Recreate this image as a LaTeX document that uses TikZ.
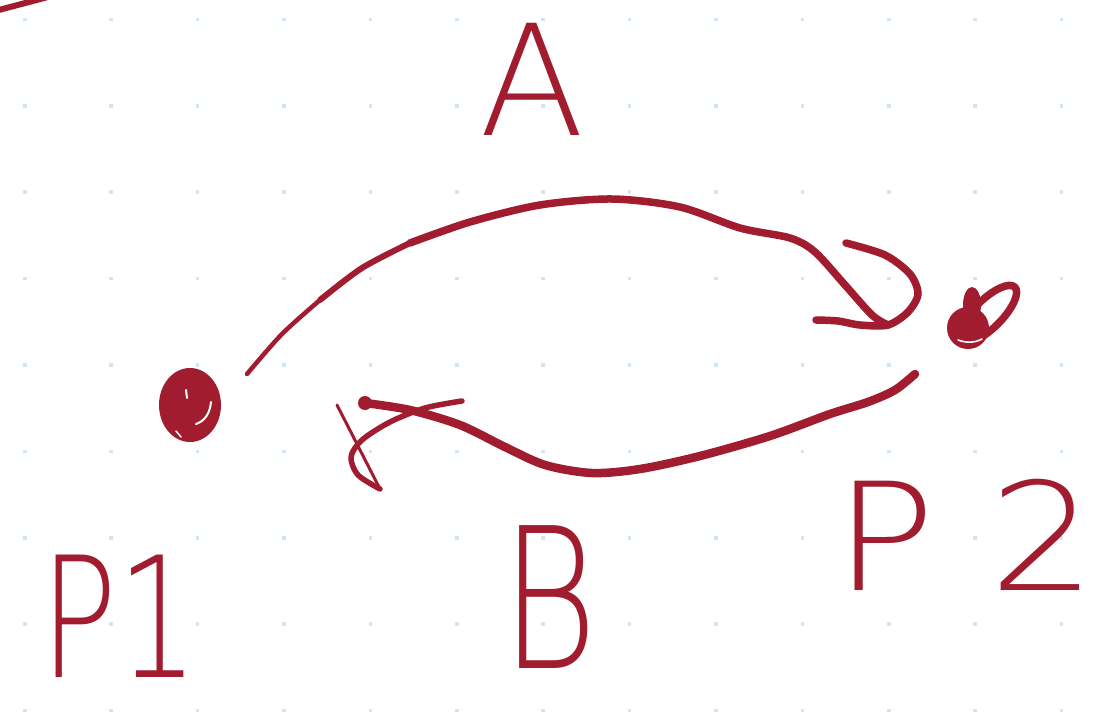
\documentclass[tikz,border=0pt]{standalone}
\usepackage{fontspec}
\newfontfamily\handfont{DejaVu Sans ExtraLight}
\definecolor{ink}{RGB}{161,28,47}
\definecolor{gridblue}{RGB}{205,228,250}
\begin{document}
\begin{tikzpicture}[x=1pt,y=-1pt,
  stroke/.style={draw=ink, line cap=round, line join=round},
  lbl/.style={text=ink, inner sep=0pt}]
\fill[white] (0,0) rectangle (1101,720);
\useasboundingbox (0,0) rectangle (1101,720);
% dot grid
\foreach \i in {0,...,12}{\foreach \j in {0,...,8}{
  \fill[gridblue] ({24.7+86.4*\i-1.8},{19.4+86.4*\j-1.8}) rectangle ++(3.6,3.6);}}
% stray stroke top-left
\coordinate (tl1) at (-5,11);
\coordinate (tl2) at (48,-3);
\draw[stroke, line width=6] (tl1) -- (tl2);
% point P1
\coordinate (p1) at (190,405);
\fill[ink] (p1) ellipse [x radius=31, y radius=37];
\draw[white, line width=2, line cap=round] (196,424) .. controls (205,421) and (210,413) .. (211,402);
\draw[white, line width=2, line cap=round] (186,390) -- (187,398);
\draw[white, line width=1.5, line cap=round] (176,431) -- (181,437);
% point P2
\coordinate (p2) at (968,328);
\fill[ink] (p2) circle (21);
\fill[ink] (972,305) ellipse [x radius=9, y radius=18];
\draw[stroke, line width=7.5, rotate around={45:(988,314)}] (988,314) ellipse [x radius=38, y radius=14];
\draw[white, line width=1.6, line cap=round] (958,340) .. controls (966,343) and (975,343) .. (982,339);
% arc A
\coordinate (aS) at (247,374);
\coordinate (aM1) at (320,300);
\coordinate (aM2) at (410,243);
\coordinate (aE) at (888,325);
\draw[stroke, line width=4.5] plot[smooth] coordinates {(aS) (282,334) (aM1)};
\draw[stroke, line width=6] plot[smooth] coordinates {(aM1) (362,268) (aM2)};
\draw[stroke, line width=7.5] plot[smooth] coordinates {(aM2) (470,222) (540,205) (612,199) (680,207) (740,228) (790,238) (815,252) (845,285) (872,315) (aE)};
\draw[stroke, line width=7.5] plot[smooth] coordinates {(846,243) (885,255) (910,274) (918,294) (908,312) (aE) (860,325) (838,321) (816,320)};
% arc B
\coordinate (bS) at (915,374);
\coordinate (bE) at (365,403);
\coordinate (bT) at (380,489);
\draw[stroke, line width=8.5] plot[smooth] coordinates {(bS) (895,390) (868,402) (830,414) (770,436) (700,456) (640,469) (592,473) (545,465) (505,447) (460,425) (410,410) (bE)};
\fill[ink] (bE) circle (7);
\draw[stroke, line width=3] (337,405) -- (bT);
\draw[stroke, line width=5.5] plot[smooth] coordinates {(462,401) (425,408) (390,422) (362,440) (351,457) (358,475) (bT)};
% labels
\node[lbl, font=\handfont\fontsize{154}{154}\selectfont] (labA) at (532,79) {A};
\node[lbl, font=\handfont\fontsize{196}{196}\selectfont] (labB) at (550,597) {\scalebox{0.75}[1]{B}};
\node[lbl, font=\handfont\fontsize{168}{168}\selectfont] (labP1) at (120,616) {\scalebox{0.76}[1]{P1}};
\node[lbl, font=\handfont\fontsize{150}{150}\selectfont] (labP2) at (965,535) {\scalebox{1.12}[1]{P\kern48pt 2}};
\end{tikzpicture}
\end{document}
